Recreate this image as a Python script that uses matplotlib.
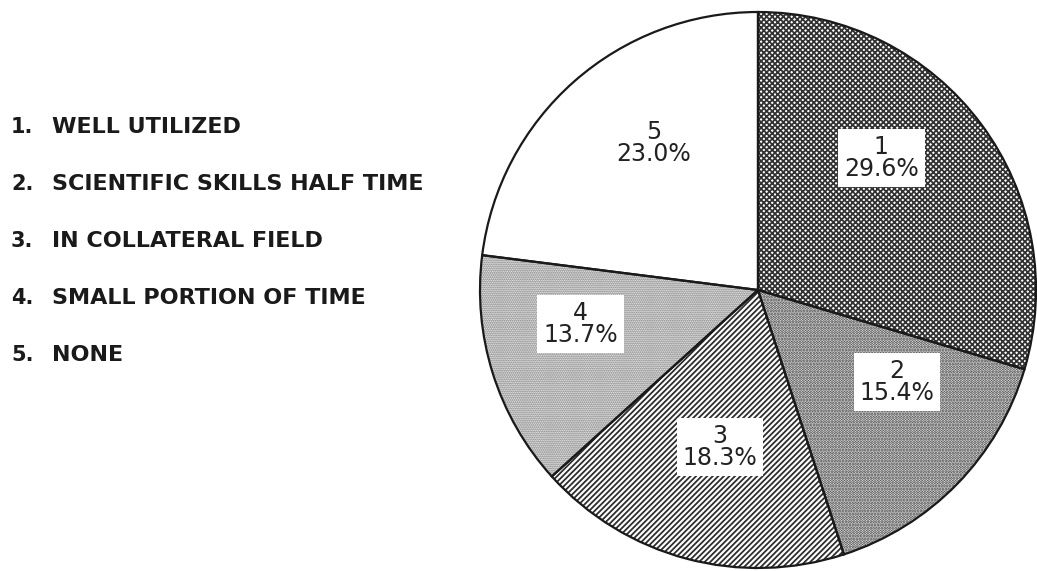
import matplotlib

matplotlib.use("Agg")
import matplotlib.pyplot as plt
import numpy as np

# survey categories and their share of respondents
numbers = ["1", "2", "3", "4", "5"]
categories = [
    "WELL UTILIZED",
    "SCIENTIFIC SKILLS HALF TIME",
    "IN COLLATERAL FIELD",
    "SMALL PORTION OF TIME",
    "NONE",
]
shares = [29.6, 15.4, 18.3, 13.7, 23.0]

# fill style per slice
hatches = ["xxxxxx", "......", "//////", "........", ""]
hatch_colors = ["#333333", "#333333", "#2e2e2e", "#666666", "white"]
hatch_widths = [1.3, 1.5, 1.3, 1.0, 0.8]
# where each label sits inside its slice (fraction of radius, angle in degrees)
label_r = [0.65, 0.60, 0.58, 0.65, 0.65]
label_ang = [47.0, -33.5, -103.6, -169.2, 125.4]

fig = plt.figure(figsize=(10.37, 5.71), dpi=100)
fig.patch.set_facecolor("white")

W, H = 1037, 571
cx, cy, r = 758, 571 - 290, 278
ax = fig.add_axes([(cx - r) / W, (cy - r) / H, 2 * r / W, 2 * r / H])
ax.axis("off")

wedges, _ = ax.pie(shares, startangle=90, counterclock=False, radius=1,
                   wedgeprops=dict(linewidth=0))
for w, h, c, lw in zip(wedges, hatches, hatch_colors, hatch_widths):
    w.set_facecolor("white")
    w.set_hatch(h)
    w.set_edgecolor(c)
    if hasattr(w, "set_hatch_linewidth"):
        w.set_hatch_linewidth(lw)

# crisp black outlines on top of the hatching
ax.pie(shares, startangle=90, counterclock=False, radius=1,
       wedgeprops=dict(fill=False, edgecolor="#1a1a1a", linewidth=1.6))

ax.set_xlim(-1, 1)
ax.set_ylim(-1, 1)

for num, val, lr, la in zip(numbers, shares, label_r, label_ang):
    t = np.deg2rad(la)
    ax.text(lr * np.cos(t), lr * np.sin(t), f"{num}\n{val:.1f}%",
            ha="center", va="center", fontsize=17, color="#222222",
            linespacing=0.9,
            bbox=dict(boxstyle="square,pad=0.25", facecolor="white",
                      edgecolor="none"))

# key on the left
y0, dy = 571 - 127, 57
for i, (num, cat) in enumerate(zip(numbers, categories)):
    y = (y0 - i * dy) / H
    fig.text(11 / W, y, f"{num}.", ha="left", va="center", fontsize=15,
             fontweight="bold", color="#1a1a1a")
    fig.text(52 / W, y, cat, ha="left", va="center", fontsize=16,
             fontweight="bold", color="#1a1a1a")

fig.savefig("out.png", dpi=100, facecolor="white")
